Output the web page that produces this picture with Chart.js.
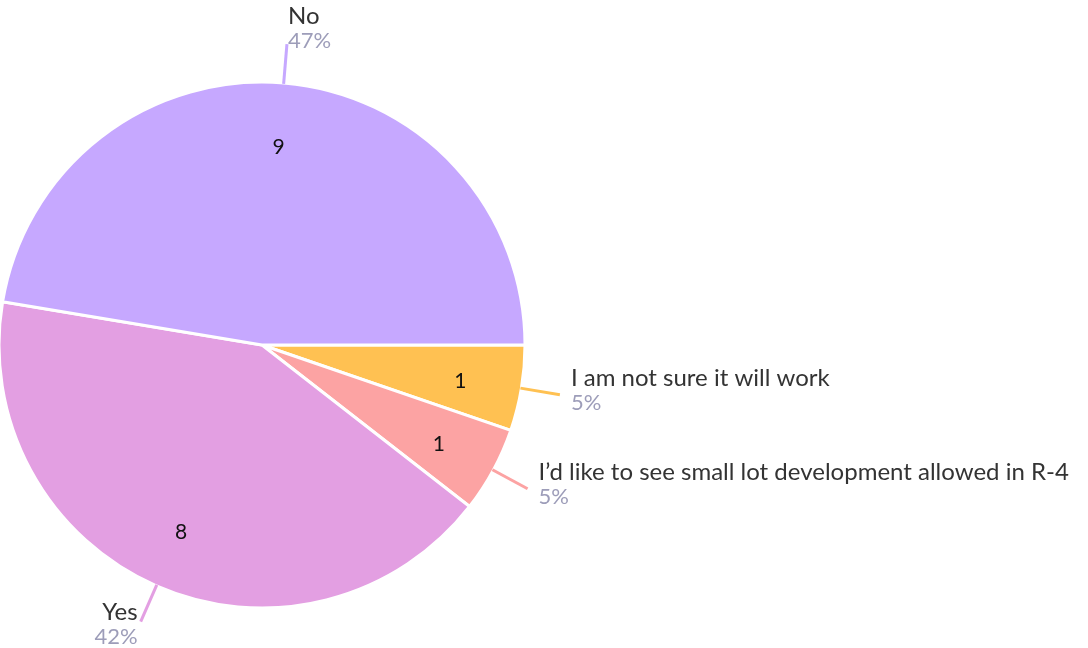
<!DOCTYPE html>
<html>
<head>
<meta charset="utf-8">
<script src="https://cdn.jsdelivr.net/npm/chart.js@4.4.1/dist/chart.umd.min.js"></script>
<style>
  html, body { margin: 0; padding: 0; background: #ffffff; }
  #wrap { width: 1088px; height: 648px; position: relative; }
</style>
</head>
<body>
<div id="wrap"><canvas id="pieChart" width="1088" height="648"></canvas></div>
<script>
const categories = ['I am not sure it will work', 'I\u2019d like to see small lot development allowed in R-4', 'Yes', 'No'];
const counts = [1, 1, 8, 9];
const percents = ['5%', '5%', '42%', '47%'];
const colors = ['#FFC152', '#FCA3A3', '#E39FE2', '#C6A8FF'];

const fontFamily = 'Lato, "Open Sans", sans-serif';

// draws the counts inside and the leader lines + labels outside
const sliceLabels = {
    id: 'sliceLabels',
    afterDatasetsDraw(chart) {
        const ctx = chart.ctx;
        const meta = chart.getDatasetMeta(0);
        meta.data.forEach(function(arc, i) {
            const p = arc.getProps(['x', 'y', 'startAngle', 'endAngle', 'outerRadius'], true);
            const mid = (p.startAngle + p.endAngle) / 2;
            const cos = Math.cos(mid), sin = Math.sin(mid);
            const R = p.outerRadius;

            // count inside the slice
            ctx.save();
            ctx.fillStyle = '#111111';
            ctx.font = 'normal normal 400 21px ' + fontFamily;
            ctx.textAlign = 'center';
            ctx.textBaseline = 'middle';
            ctx.fillText(String(counts[i]), p.x + cos * R * 0.765, p.y + sin * R * 0.765 + 3);

            // leader line
            const x1 = p.x + cos * (R - 1), y1 = p.y + sin * (R - 1);
            const x2 = p.x + cos * (R + 39), y2 = p.y + sin * (R + 39);
            ctx.strokeStyle = colors[i];
            ctx.lineWidth = 3;
            ctx.beginPath();
            ctx.moveTo(x1, y1);
            ctx.lineTo(x2, y2);
            ctx.stroke();

            // outer label
            let tx, nameY, align;
            if (sin < -0.9) {
                tx = x2 + 1; align = 'left';
                nameY = y2 - 20;
            } else if (cos >= 0) {
                tx = x2 + 11; align = 'left';
                nameY = y2 - 9;
            } else {
                tx = x2 - 3; align = 'right';
                nameY = y2 - 2;
            }
            ctx.textAlign = align;
            ctx.textBaseline = 'alphabetic';
            ctx.fillStyle = '#333333';
            ctx.font = 'normal normal 400 24px ' + fontFamily;
            ctx.fillText(categories[i], tx, nameY);
            ctx.fillStyle = '#9D9DB9';
            ctx.font = 'normal normal 400 22px ' + fontFamily;
            ctx.fillText(percents[i], tx, nameY + 24);
            ctx.restore();
        });
    }
};

const ctx = document.getElementById('pieChart').getContext('2d');
new Chart(ctx, {
    type: 'pie',
    data: {
        labels: categories,
        datasets: [{
            data: counts,
            backgroundColor: colors,
            borderColor: '#ffffff',
            borderWidth: 3,
            radius: 263
        }]
    },
    options: {
        responsive: false,
        animation: false,
        rotation: 90,
        layout: {
            padding: { left: 0, right: 564, top: 84, bottom: 42 }
        },
        plugins: {
            legend: { display: false },
            tooltip: { enabled: false }
        }
    },
    plugins: [sliceLabels]
});
</script>
</body>
</html>
